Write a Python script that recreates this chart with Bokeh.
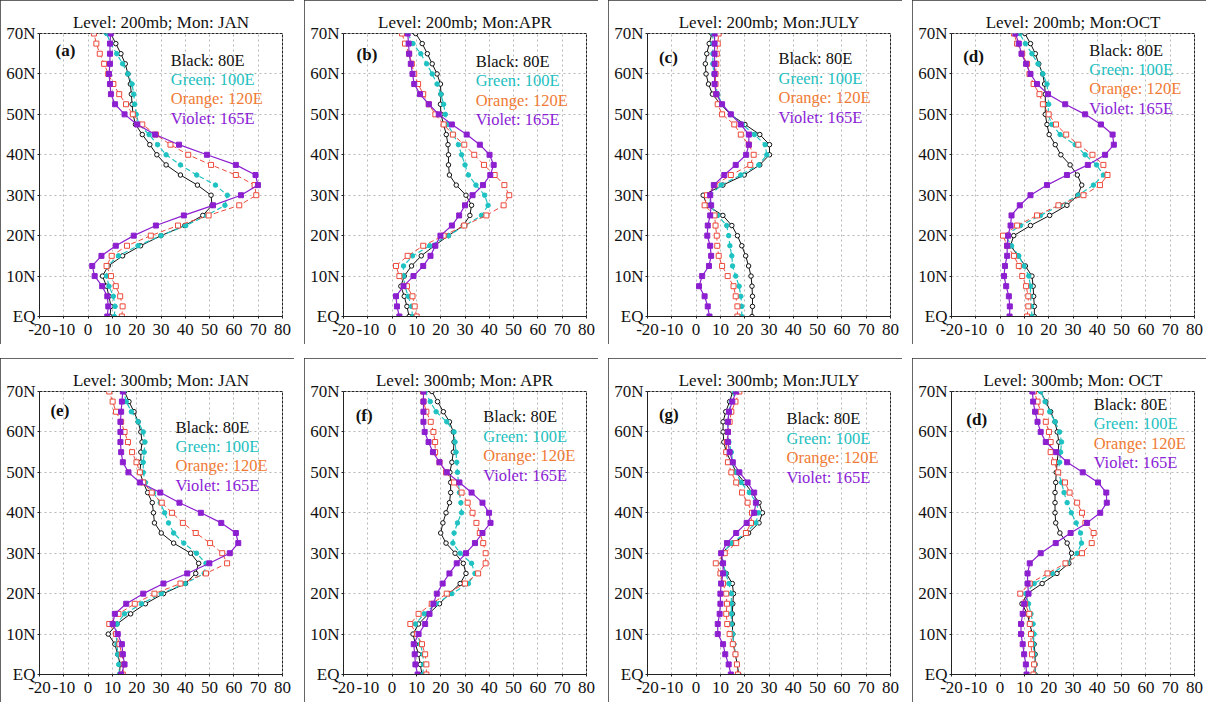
from bokeh.plotting import figure
from bokeh.models import Range1d, FixedTicker, Label
from bokeh.layouts import row, column
from bokeh.embed import file_html
from bokeh.resources import INLINE

LAT = [0, 2.5, 5, 7.5, 10, 12.5, 15, 17.5, 20, 22.5, 25, 27.5, 30, 32.5, 35,
       37.5, 40, 42.5, 45, 47.5, 50, 52.5, 55, 57.5, 60, 62.5, 65, 67.5, 70]

X_TICKS = [-20, -10, 0, 10, 20, 30, 40, 50, 60, 70, 80]
X_LABELS = ["-20", "-10", "0", "10", "20", "30", "40", "50", "60", "70", "80"]
Y_TICKS = [0, 10, 20, 30, 40, 50, 60, 70]
Y_LABELS = ["EQ", "10N", "20N", "30N", "40N", "50N", "60N", "70N"]

LEGEND_TEXT = ["Black: 80E", "Green: 100E", "Orange: 120E", "Violet: 165E"]
TITLES = ["Level: 200mb; Mon: JAN", "Level: 200mb; Mon:APR", "Level: 200mb; Mon:JULY", "Level: 200mb; Mon:OCT",
          "Level: 300mb; Mon: JAN", "Level: 300mb; Mon: APR", "Level: 300mb; Mon:JULY", "Level: 300mb; Mon: OCT"]
TAGS = ["(a)", "(b)", "(c)", "(d)", "(e)", "(f)", "(g)", "(d)"]

# ---- 200 mb, JAN ----
A_80E = [9.0, 9.4, 8.6, 7.6, 5.9, 8.3, 14.2, 21.6, 30.0, 39.8, 47.2, 51.0, 50.6, 45.0, 38.0, 32.1, 28.3, 25.4, 22.3, 19.5, 18.5, 18.1, 17.8, 17.4, 16.4, 15.3, 13.5, 11.4, 9.3]
A_100E = [10.8, 11.1, 10.4, 8.6, 7.6, 8.0, 12.5, 20.5, 30.0, 40.2, 48.9, 56.3, 57.3, 52.4, 44.7, 38.0, 32.1, 28.6, 25.1, 20.9, 19.8, 19.2, 18.8, 18.1, 16.4, 14.2, 11.8, 9.3, 7.6]
A_120E = [13.9, 14.2, 13.2, 11.4, 9.4, 7.6, 9.7, 16.0, 25.8, 37.0, 49.6, 62.2, 69.2, 68.5, 60.8, 50.6, 41.2, 33.9, 27.9, 22.3, 18.4, 15.6, 12.8, 10.4, 8.3, 6.6, 4.8, 3.4, 2.4]
A_165E = [7.9, 8.3, 7.9, 5.8, 2.7, 1.7, 5.5, 11.4, 18.8, 27.9, 39.4, 51.4, 62.9, 69.9, 68.9, 60.8, 48.9, 37.4, 27.6, 20.2, 15.0, 11.1, 9.4, 9.0, 8.6, 9.0, 9.0, 9.0, 9.3]

# ---- 200 mb, APR ----
B_80E = [7.0, 6.1, 5.0, 3.6, 5.0, 8.0, 12.0, 17.4, 23.2, 29.3, 32.0, 32.7, 30.4, 26.4, 23.6, 23.2, 23.2, 23.0, 22.3, 21.2, 20.1, 19.9, 20.1, 19.9, 18.5, 16.5, 14.5, 12.4, 9.7]
B_100E = [8.4, 8.0, 6.6, 5.3, 4.7, 4.7, 8.4, 15.5, 23.2, 30.0, 36.8, 39.5, 38.1, 34.5, 31.4, 30.0, 28.6, 27.3, 25.3, 22.8, 21.9, 21.2, 20.1, 18.5, 16.5, 14.2, 11.8, 8.6, 6.4]
B_120E = [10.1, 9.3, 8.4, 6.1, 3.0, 1.6, 6.4, 12.8, 21.2, 29.7, 38.8, 45.9, 48.2, 46.2, 42.2, 37.8, 33.8, 29.7, 25.0, 21.2, 17.8, 15.1, 12.8, 10.7, 9.1, 8.1, 7.0, 5.3, 4.1]
B_165E = [3.0, 2.0, 1.6, 4.7, 8.8, 12.8, 15.8, 17.8, 19.9, 24.6, 27.6, 30.0, 33.1, 37.4, 40.4, 41.8, 40.1, 36.1, 30.7, 24.6, 19.2, 15.1, 11.5, 9.1, 8.4, 7.7, 7.0, 6.8, 6.4]

# ---- 200 mb, JULY ----
C_80E = [23.0, 23.2, 23.2, 23.0, 22.6, 21.6, 20.4, 18.8, 17.0, 14.7, 11.0, 4.5, 2.9, 11.0, 19.8, 26.2, 30.2, 30.2, 26.2, 20.1, 14.1, 10.1, 6.7, 5.1, 4.1, 3.8, 4.4, 5.4, 6.5]
C_100E = [18.8, 18.8, 18.4, 17.7, 16.3, 15.0, 14.7, 13.9, 13.4, 12.6, 8.9, 5.8, 5.8, 10.3, 18.4, 25.8, 29.1, 28.4, 24.0, 19.0, 14.3, 10.6, 8.9, 7.9, 7.3, 6.9, 6.9, 6.9, 6.9]
C_120E = [17.0, 17.0, 16.3, 15.4, 13.0, 10.7, 9.3, 8.7, 8.5, 8.0, 7.6, 3.5, 4.5, 7.6, 14.3, 22.3, 23.7, 21.7, 18.4, 15.7, 10.7, 8.9, 8.3, 8.0, 8.0, 8.3, 8.5, 8.9, 9.3]
C_165E = [5.5, 4.8, 3.5, 1.2, 2.5, 5.3, 6.2, 5.8, 4.6, 4.8, 5.8, 6.2, 5.8, 7.3, 11.6, 16.3, 20.6, 21.7, 21.7, 18.4, 14.3, 10.7, 8.3, 7.6, 7.6, 7.6, 7.6, 7.6, 7.6]

# ---- 200 mb, OCT ----
D_80E = [14.1, 14.1, 13.8, 13.6, 13.1, 10.4, 7.4, 4.3, 5.6, 12.5, 20.4, 27.5, 32.0, 33.6, 31.8, 28.8, 25.0, 22.7, 20.2, 19.3, 18.6, 18.6, 18.6, 18.3, 17.5, 15.9, 14.5, 12.5, 10.2]
D_100E = [13.1, 12.9, 12.5, 12.5, 11.8, 9.8, 7.7, 4.7, 2.2, 8.4, 16.6, 24.7, 32.2, 38.4, 42.5, 39.7, 35.0, 30.9, 24.7, 21.3, 19.7, 20.0, 19.7, 19.3, 17.6, 15.6, 13.1, 10.4, 8.0]
D_120E = [11.1, 11.6, 11.6, 10.7, 9.1, 7.7, 5.7, 2.9, 1.2, 7.0, 15.2, 24.0, 34.3, 41.1, 44.2, 42.5, 38.0, 32.2, 27.2, 23.0, 20.0, 17.6, 16.2, 13.8, 12.1, 11.1, 9.1, 7.0, 5.7]
D_165E = [3.9, 4.0, 3.6, 2.5, 1.6, 2.0, 2.9, 2.9, 3.3, 4.3, 4.7, 8.1, 12.5, 19.3, 27.5, 36.1, 43.2, 46.8, 46.3, 41.5, 35.0, 26.8, 19.7, 15.2, 12.5, 10.7, 8.8, 7.7, 6.3]

# ---- 300 mb, JAN ----
E_80E = [12.9, 13.2, 12.2, 11.0, 8.3, 11.9, 17.5, 23.6, 31.0, 40.1, 44.3, 45.5, 42.2, 35.2, 30.1, 27.3, 26.9, 26.4, 24.5, 22.7, 21.3, 21.7, 21.7, 22.2, 21.7, 20.6, 18.9, 16.8, 15.0]
E_100E = [12.9, 12.6, 12.2, 11.9, 11.5, 11.9, 15.0, 22.0, 30.1, 39.9, 47.8, 48.5, 44.6, 39.4, 35.2, 33.1, 31.5, 29.7, 26.9, 23.6, 22.7, 22.7, 23.1, 23.4, 22.7, 20.6, 17.8, 15.7, 14.7]
E_120E = [14.3, 14.7, 13.9, 12.9, 11.5, 8.7, 12.5, 19.2, 27.3, 38.0, 48.5, 57.2, 55.2, 50.2, 44.3, 39.0, 34.5, 30.3, 26.2, 22.7, 21.3, 19.9, 18.1, 16.4, 15.0, 13.6, 11.5, 10.1, 8.7]
E_165E = [13.6, 15.0, 14.3, 13.9, 12.2, 10.1, 11.0, 15.7, 22.7, 31.0, 40.8, 49.9, 58.3, 61.8, 60.8, 54.8, 46.4, 37.6, 29.7, 21.3, 16.6, 14.3, 13.6, 13.3, 13.3, 13.3, 13.6, 13.9, 14.3]

# ---- 300 mb, APR ----
F_80E = [12.3, 11.6, 10.9, 9.6, 8.6, 10.9, 15.0, 19.5, 23.6, 28.0, 30.4, 29.3, 25.9, 22.2, 20.0, 20.9, 22.2, 23.6, 24.1, 24.1, 23.8, 24.6, 25.2, 25.5, 25.2, 23.6, 21.1, 18.7, 16.4]
F_100E = [12.7, 12.9, 12.7, 11.6, 10.5, 9.6, 13.2, 18.1, 24.6, 31.4, 34.1, 32.7, 28.0, 25.0, 25.5, 26.9, 28.6, 28.3, 27.7, 27.3, 26.9, 26.6, 26.3, 25.9, 25.5, 22.5, 18.1, 15.7, 13.6]
F_120E = [14.1, 14.1, 13.6, 12.3, 10.2, 7.5, 10.9, 16.3, 22.5, 30.0, 35.4, 38.5, 38.5, 37.5, 36.1, 34.7, 33.1, 31.1, 28.6, 25.5, 22.2, 19.5, 17.7, 17.7, 17.0, 15.9, 14.1, 12.9, 12.7]
F_165E = [10.5, 9.6, 9.3, 8.9, 10.9, 13.6, 15.4, 17.0, 18.4, 20.8, 23.6, 26.6, 30.4, 34.1, 37.2, 40.5, 39.9, 37.2, 32.7, 27.7, 22.5, 19.5, 16.8, 15.0, 13.4, 12.9, 12.9, 12.9, 12.9]

# ---- 300 mb, JULY ----
G_80E = [17.6, 16.9, 16.2, 15.5, 15.1, 14.9, 14.9, 15.1, 15.4, 14.9, 12.4, 10.7, 10.4, 15.1, 21.6, 25.9, 27.3, 25.9, 23.0, 19.9, 16.5, 14.5, 12.4, 11.4, 11.1, 11.1, 12.2, 13.8, 15.1]
G_100E = [17.2, 16.8, 16.2, 15.5, 15.1, 14.5, 14.5, 14.5, 14.5, 13.5, 12.2, 11.1, 10.8, 14.5, 20.5, 24.6, 25.7, 24.9, 21.9, 18.5, 16.5, 15.1, 14.5, 13.5, 13.1, 13.1, 13.5, 14.5, 15.8]
G_120E = [17.2, 16.8, 16.2, 15.1, 13.8, 12.8, 12.4, 12.7, 12.4, 11.1, 10.0, 8.1, 11.8, 16.5, 20.5, 22.6, 23.0, 21.2, 18.9, 16.5, 14.5, 13.1, 12.4, 12.7, 13.1, 13.8, 14.5, 16.2, 17.8]
G_165E = [14.3, 13.4, 12.0, 11.1, 8.9, 8.9, 9.7, 10.0, 10.0, 10.3, 11.1, 11.1, 10.3, 12.7, 16.5, 20.8, 23.9, 24.6, 23.9, 21.2, 17.8, 15.1, 13.8, 13.1, 13.1, 13.1, 13.5, 14.9, 16.5]

# ---- 300 mb, OCT ----
H_80E = [14.4, 14.4, 14.4, 14.0, 13.3, 12.2, 11.2, 9.0, 11.2, 17.3, 23.4, 28.3, 29.4, 27.6, 24.6, 22.9, 22.6, 22.6, 22.6, 22.9, 23.1, 23.5, 23.9, 24.2, 23.5, 22.6, 20.8, 18.8, 16.7]
H_100E = [14.4, 14.4, 14.0, 13.7, 14.0, 13.6, 12.7, 11.7, 10.6, 14.0, 21.5, 27.6, 31.7, 33.5, 33.1, 31.3, 29.3, 27.6, 26.3, 25.3, 23.9, 24.5, 24.9, 25.3, 24.5, 22.6, 20.4, 18.5, 16.7]
H_120E = [13.7, 14.0, 13.1, 12.7, 12.7, 12.2, 12.0, 10.3, 8.3, 12.2, 19.5, 26.9, 33.7, 37.7, 38.5, 35.1, 33.7, 31.7, 28.6, 26.7, 23.9, 22.2, 20.8, 20.8, 20.1, 18.8, 16.7, 15.4, 14.0]
H_165E = [10.9, 10.6, 9.9, 9.3, 8.6, 8.6, 9.3, 9.9, 11.7, 11.3, 11.3, 12.2, 16.7, 22.9, 29.0, 35.8, 41.2, 43.9, 43.7, 40.3, 34.0, 27.6, 23.1, 18.8, 16.7, 15.4, 14.4, 13.6, 13.3]

PANELS = [
    (A_80E, A_100E, A_120E, A_165E),
    (B_80E, B_100E, B_120E, B_165E),
    (C_80E, C_100E, C_120E, C_165E),
    (D_80E, D_100E, D_120E, D_165E),
    (E_80E, E_100E, E_120E, E_165E),
    (F_80E, F_100E, F_120E, F_165E),
    (G_80E, G_100E, G_120E, G_165E),
    (H_80E, H_100E, H_120E, H_165E),
]

# legend anchor (data coords) and tag anchor per panel
LEG_POS = [(34, 63.4), (34.4, 63.1), (33.9, 63.7), (36.7, 65.9),
           (36, 61.2), (37.5, 63.7), (37.2, 63.2), (38.5, 66.8)]
TAG_POS = [(-13.4, 65.7), (-14.6, 64.9), (-15.3, 64.0), (-15.2, 64.4),
           (-15.5, 65.4), (-15.0, 64.1), (-15.3, 64.2), (-13.9, 63.0)]

SERIF = "Liberation Serif"
LINE_COLORS = ["#111111", "#1fc2c2", "#ec4a3c", "#8c1fcf"]
TEXT_COLORS = ["#111111", "#22c0c0", "#f07a34", "#8a22d6"]


def make_panel(i):
    p = figure(width=294, height=344, x_range=Range1d(-20, 80), y_range=Range1d(0, 70),
               output_backend="svg", toolbar_location=None, title=TITLES[i],
               min_border_left=39, min_border_right=12, min_border_top=33, min_border_bottom=28)
    p.styles = {"outline": "1px solid #333", "outline-offset": "-1px"}
    p.title.align = "center"
    p.title.text_font = SERIF
    p.title.text_font_size = "17px"
    p.title.text_font_style = "normal"
    p.title.text_color = "#111111"
    p.title.standoff = 3
    p.outline_line_color = "#222222"
    p.outline_line_width = 1
    p.outline_line_dash = "3 1"
    p.background_fill_color = "white"

    p.xaxis.ticker = FixedTicker(ticks=X_TICKS)
    p.xaxis.major_label_overrides = {t: l for t, l in zip(X_TICKS, X_LABELS)}
    p.yaxis.ticker = FixedTicker(ticks=Y_TICKS)
    p.yaxis.major_label_overrides = {t: l for t, l in zip(Y_TICKS, Y_LABELS)}
    for ax in (p.xaxis[0], p.yaxis[0]):
        ax.major_label_text_font = SERIF
        ax.major_label_text_font_size = "17px"
        ax.major_label_text_color = "#111111"
        ax.major_tick_in = 0
        ax.major_tick_out = 2
        ax.minor_tick_line_color = None
        ax.axis_line_color = "#222222"
        ax.major_tick_line_color = "#222222"
    p.xaxis.major_label_standoff = 5
    p.yaxis.major_label_standoff = 2
    p.grid.grid_line_color = "#b8b8b8"
    p.grid.grid_line_dash = "2 3"
    p.grid.grid_line_width = 1

    s80, s100, s120, s165 = PANELS[i]
    # 80E black solid, open circles
    p.line(s80, LAT, line_color=LINE_COLORS[0], line_width=1)
    p.scatter(s80, LAT, marker="circle", size=4.5, fill_color="white", line_color=LINE_COLORS[0], line_width=1)
    # 100E cyan dashed, filled circles
    p.line(s100, LAT, line_color=LINE_COLORS[1], line_width=1.2, line_dash="5 3")
    p.scatter(s100, LAT, marker="circle", size=4.5, fill_color=LINE_COLORS[1], line_color=LINE_COLORS[1])
    # 120E red dashed, open squares
    p.line(s120, LAT, line_color=LINE_COLORS[2], line_width=1, line_dash="5 3")
    p.scatter(s120, LAT, marker="square", size=5, fill_color="white", line_color=LINE_COLORS[2], line_width=1)
    # 165E violet solid, filled squares
    p.line(s165, LAT, line_color=LINE_COLORS[3], line_width=1.2)
    p.scatter(s165, LAT, marker="square", size=5, fill_color=LINE_COLORS[3], line_color=LINE_COLORS[3])

    lx, ly = LEG_POS[i]
    for k, (txt, col) in enumerate(zip(LEGEND_TEXT, TEXT_COLORS)):
        p.add_layout(Label(x=lx, y=ly - 4.8 * k, text=txt, text_color=col, text_font=SERIF,
                           text_font_size="16.5px", text_baseline="middle", text_align="left"))
    tx, ty = TAG_POS[i]
    p.add_layout(Label(x=tx, y=ty, text=TAGS[i], text_color="#111111", text_font=SERIF,
                       text_font_size="17px", text_font_style="bold", text_baseline="middle",
                       text_align="left"))
    return p


figs = [make_panel(i) for i in range(8)]
layout = column(row(figs[:4], spacing=10), row(figs[4:], spacing=10), spacing=14)

open("out.html", "w").write(file_html(layout, INLINE))
